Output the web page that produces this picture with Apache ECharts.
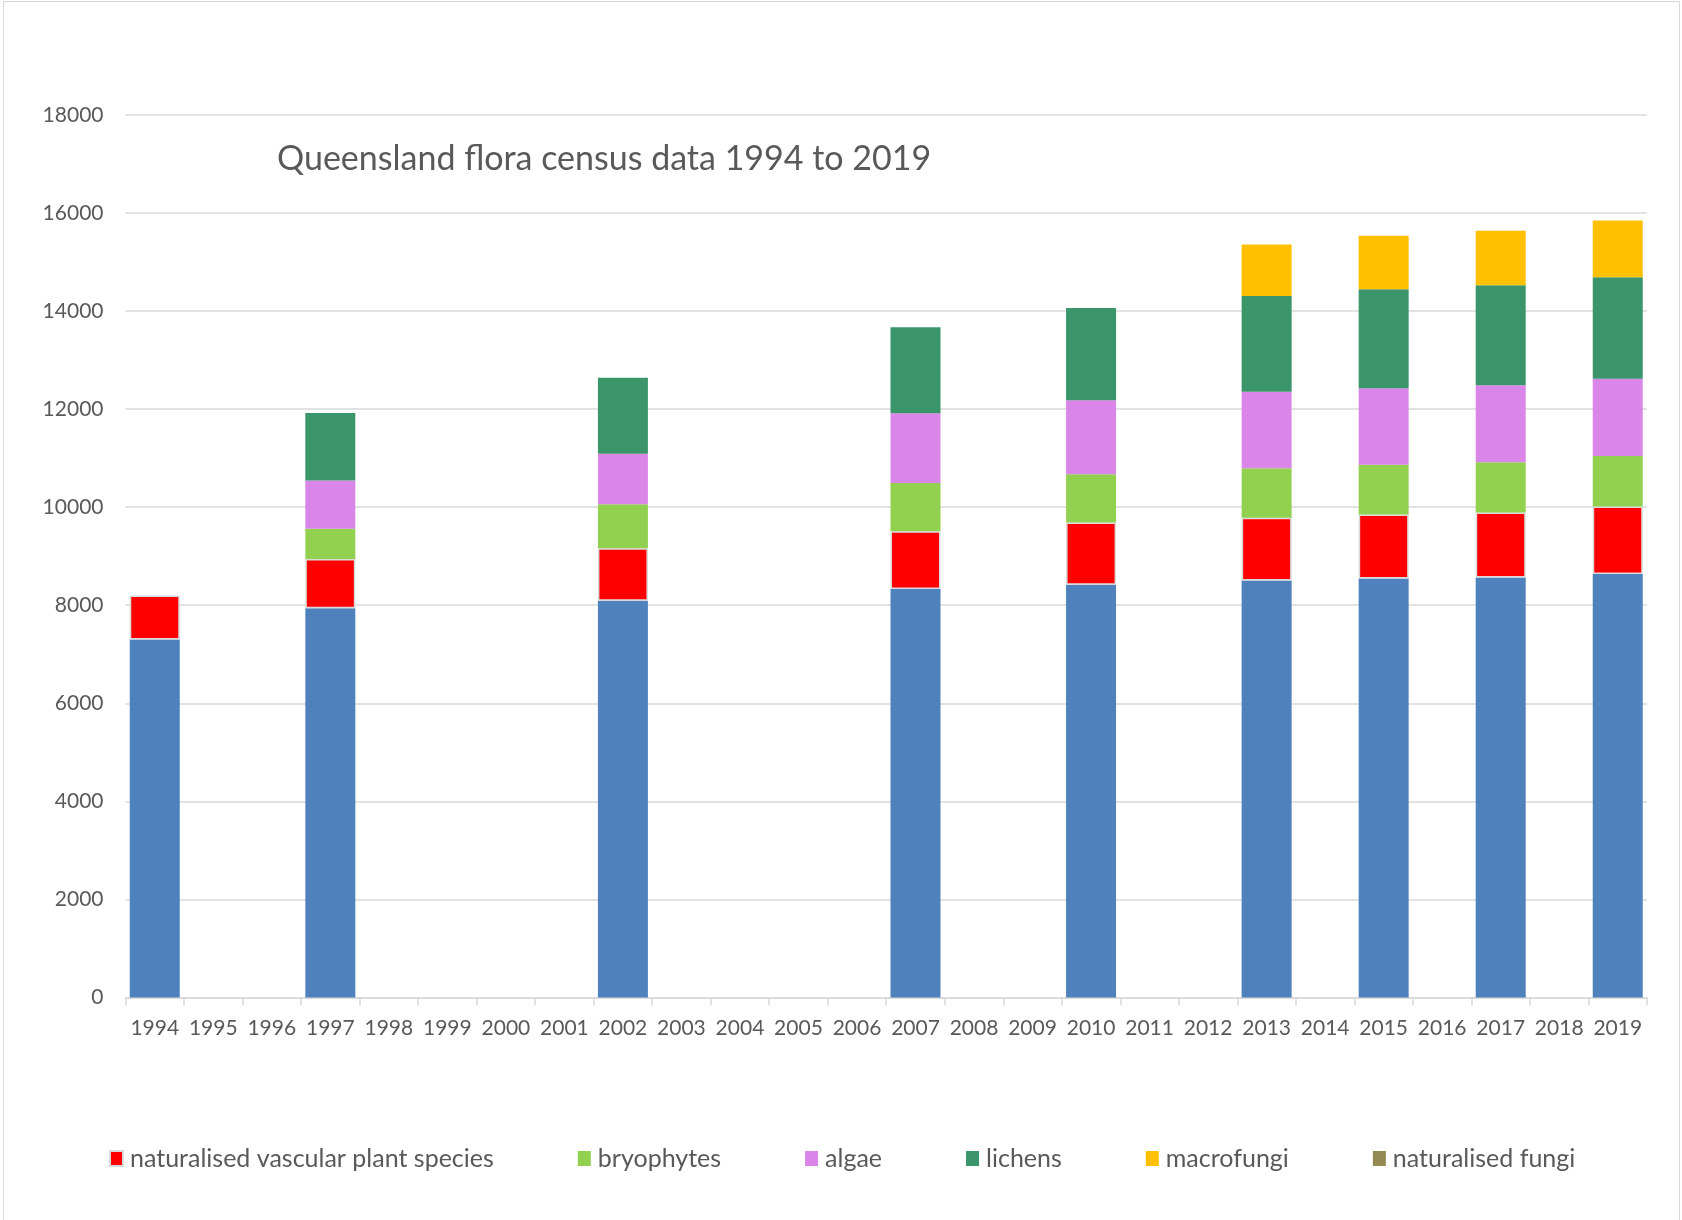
<!DOCTYPE html>
<html>
<head>
<meta charset="utf-8">
<script src="https://cdn.jsdelivr.net/npm/echarts@6/dist/echarts.min.js"></script>
<style>
  html, body { margin: 0; padding: 0; background: #fff; }
  #frame { position: absolute; left: 3px; top: 1px; width: 1677px; height: 1230px; border: 1px solid #d9d9d9; box-sizing: border-box; }
  #myChart { position: absolute; left: 0; top: 0; width: 1682px; height: 1220px; }
</style>
</head>
<body>
<div id="frame"></div>
<div id="myChart"></div>
<script>
// years on the category axis
var years = ['1994','1995','1996','1997','1998','1999','2000','2001','2002','2003','2004','2005','2006',
  '2007','2008','2009','2010','2011','2012','2013','2014','2015','2016','2017','2018','2019'];

// values (null = no census that year)
var vascular =      [7300,null,null,7940,null,null,null,null,8090,null,null,null,null,8330,null,null,8420,null,null,8505,null,8545,null,8565,null,8638];
var naturalised =   [ 900,null,null,1005,null,null,null,null,1072,null,null,null,null,1180,null,null,1268,null,null,1280,null,1305,null,1328,null,1375];
var bryophytes =    [null,null,null, 613,null,null,null,null, 898,null,null,null,null, 985,null,null, 985,null,null,1010,null,1015,null,1022,null,1032];
var algae =         [null,null,null, 984,null,null,null,null,1027,null,null,null,null,1422,null,null,1509,null,null,1558,null,1560,null,1573,null,1575];
var lichens =       [null,null,null,1378,null,null,null,null,1553,null,null,null,null,1750,null,null,1881,null,null,1950,null,2018,null,2038,null,2066];
var macrofungi =    [null,null,null,null,null,null,null,null,null,null,null,null,null,null,null,null,null,null,null,1052,null,1090,null,1110,null,1157];
var natFungi =      [null,null,null,null,null,null,null,null,null,null,null,null,null,null,null,null,null,null,null,null,null,null,null,null,null,null];

var yTicks = { min: 0, max: 18000, interval: 2000 };

var myChart = echarts.init(document.getElementById('myChart'));
var font = 'Lato, "Open Sans", sans-serif';
var txt = '#595959';

function bar(name, data, color, extra) {
  var s = {
    name: name,
    type: 'bar',
    stack: 'total',
    barWidth: 50,
    data: data,
    itemStyle: { color: color },
    emphasis: { disabled: true }
  };
  if (extra) s.itemStyle = Object.assign(s.itemStyle, extra);
  return s;
}

var option = {
  animation: false,
  backgroundColor: 'transparent',
  title: {
    text: 'Queensland flora census data 1994 to 2019',
    left: 272,
    top: 137,
    textStyle: { fontFamily: font, fontSize: 34, fontWeight: 'normal', color: txt }
  },
  legend: {
    data: ['naturalised vascular plant species','bryophytes','algae','lichens','macrofungi','naturalised fungi'],
    left: 104,
    top: 1141,
    itemWidth: 13,
    itemHeight: 15,
    itemGap: 84,
    icon: 'rect',
    textStyle: { fontFamily: font, fontSize: 25, color: txt, padding: [0, 0, 0, 2] }
  },
  grid: { left: 125.5, right: 35, top: 114.8, bottom: 222.4 },
  xAxis: {
    type: 'category',
    data: years,
    axisLine: { lineStyle: { color: '#d9d9d9', width: 1.5 } },
    axisTick: { show: true, length: 8, lineStyle: { color: '#d9d9d9', width: 1.5 } },
    axisLabel: { fontFamily: font, fontSize: 21, color: txt, margin: 20, interval: 0 }
  },
  yAxis: {
    type: 'value',
    min: yTicks.min,
    max: yTicks.max,
    interval: yTicks.interval,
    axisLine: { show: false },
    axisTick: { show: false },
    splitLine: { lineStyle: { color: '#d9d9d9', width: 1.5 } },
    axisLabel: { fontFamily: font, fontSize: 21, color: txt, margin: 22, formatter: function (v) { return String(v); } }
  },
  series: [
    bar('vascular plant species', vascular, '#4F81BD'),
    bar('naturalised vascular plant species', naturalised, '#FF0000', { borderColor: '#d9d9d9', borderWidth: 1.5 }),
    bar('bryophytes', bryophytes, '#92D050'),
    bar('algae', algae, '#D986E8'),
    bar('lichens', lichens, '#3A966A'),
    bar('macrofungi', macrofungi, '#FFC000'),
    bar('naturalised fungi', natFungi, '#948A54')
  ]
};
myChart.setOption(option);
</script>
</body>
</html>
